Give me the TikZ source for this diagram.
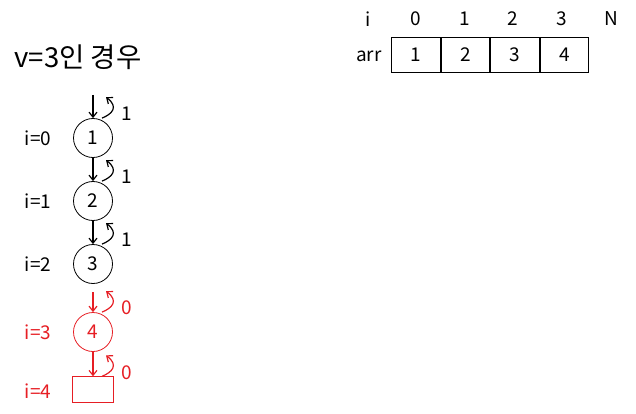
\documentclass[tikz,border=0pt]{standalone}
\usepackage{fontspec}
\setmainfont{Noto Sans CJK KR}
\usetikzlibrary{arrows.meta,positioning}
\definecolor{hred}{RGB}{230,30,36}

\begin{document}
\begin{tikzpicture}[x=1pt,y=-1pt,
	main/.style = {draw, circle, minimum size=39pt, inner sep=0pt, line width=0.8pt, font=\fontsize{19}{19}\selectfont},
	lbl/.style = {font=\fontsize{19}{19}\selectfont},
	cell/.style = {draw, minimum width=48.7pt, minimum height=35.4pt, inner sep=0pt, line width=0.8pt, font=\fontsize{19}{19}\selectfont},
	>={Straight Barb[length=5pt,width=8pt]}]
	\useasboundingbox (0,0) rectangle (636,414);
	% title
	\node[font=\fontsize{27.5}{27.5}\selectfont, anchor=west] (title) at (11,57) {v=3인 경우};
	% table
	\node[cell] (a0) at (416,55) {1};
	\node[cell] (a1) [right=0pt of a0] {2};
	\node[cell] (a2) [right=0pt of a1] {3};
	\node[cell] (a3) [right=0pt of a2] {4};
	\node[lbl] (arr) at (369,56) {arr};
	\node[lbl] (ii) at (368,19) {i};
	\node[lbl] (i0) at (416,19) {0};
	\node[lbl] (i1) at (465,19) {1};
	\node[lbl] (i2) at (513,19) {2};
	\node[lbl] (i3) at (562,19) {3};
	\node[lbl] (iN) at (611,19) {N};
	% states
	\node[main] (s1) at (93,138) {1};
	\node[main] (s2) at (93,201) {2};
	\node[main] (s3) at (93,264) {3};
	\node[main, hred] (s4) at (93,332) {4};
	\node[draw, hred, line width=0.8pt, minimum width=40.6pt, minimum height=25.6pt, inner sep=0pt] (s5) at (93,389.5) {};
	\node[lbl] (l0) at (38,138) {i=0};
	\node[lbl] (l1) at (38,201) {i=1};
	\node[lbl] (l2) at (38,264) {i=2};
	\node[lbl, hred] (l3) at (38,332) {i=3};
	\node[lbl, hred] (l4) at (38,391) {i=4};
	\coordinate (top) at (93,95);
	\coordinate (gap) at (93,292);
	% arrows
	\draw[->, line width=1.2pt] (top) -- (s1);
	\draw[->, line width=1.2pt] (s1) -- (s2);
	\draw[->, line width=1.2pt] (s2) -- (s3);
	\draw[->, line width=1.2pt, hred] (gap) -- (s4);
	\draw[->, line width=1.2pt, hred] (s4) -- (s5);
	% returns
	\foreach \n/\c/\v in {s1/black/1, s2/black/1, s3/black/1, s4/hred/0, s5/hred/0} {
		\draw[->, line width=1.2pt, \c] (\n.north) ++(9,0) .. controls +(10,-4) and +(13,10) .. +(4,-21);
		\node[lbl, \c] (r\n) at ([xshift=34pt,yshift=4pt]\n.north) {\v};
	}
\end{tikzpicture}
\end{document}
